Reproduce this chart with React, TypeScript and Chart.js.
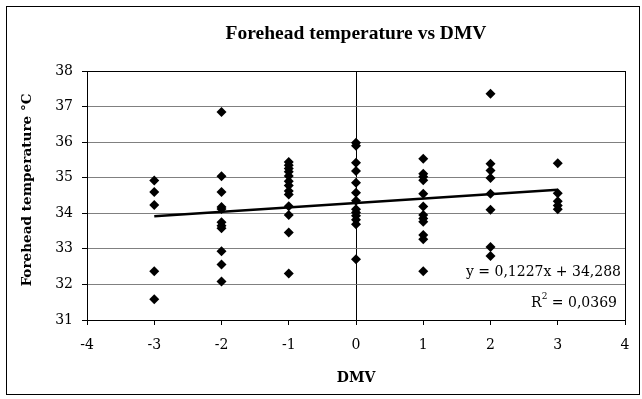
import React, { useEffect, useRef } from "react";
import { Chart, registerables } from "chart.js";

Chart.register(...registerables);

const titleText = "Forehead temperature vs DMV";
const xTitle = "DMV";
const yTitle = "Forehead temperature °C";
const equationText = "y = 0,1227x + 34,288";
const r2Base = "R";
const r2Rest = " = 0,0369";

const xMin = -4;
const xMax = 4;
const yMin = 31;
const yMax = 38;

const dmvM3 = [34.92, 34.6, 34.23, 32.37, 31.58];
const dmvM2 = [36.85, 35.04, 34.6, 34.18, 34.12, 33.75, 33.65, 33.58, 32.93, 32.56, 32.08];
const dmvM1 = [35.44, 35.35, 35.26, 35.17, 35.05, 34.9, 34.78, 34.63, 34.53, 34.2, 33.95, 33.46, 32.31];
const dmv0 = [35.98, 35.9, 35.42, 35.19, 34.86, 34.58, 34.35, 34.11, 34.02, 33.93, 33.82, 33.69, 32.71];
const dmv1 = [35.53, 35.11, 35.03, 34.93, 34.55, 34.19, 33.95, 33.85, 33.76, 33.39, 33.27, 32.37];
const dmv2 = [37.36, 35.39, 35.2, 34.99, 34.55, 34.1, 33.05, 32.8];
const dmv3 = [35.41, 34.56, 34.34, 34.22, 34.11];

const dmvColumns: [number, number[]][] = [
  [-3, dmvM3],
  [-2, dmvM2],
  [-1, dmvM1],
  [0, dmv0],
  [1, dmv1],
  [2, dmv2],
  [3, dmv3],
];

const trendX = [-3, 3];
const trendY = [33.92, 34.66];

const FONT = "'DejaVu Serif', 'Liberation Serif', serif";
const TITLE_FONT = "'Liberation Serif', 'DejaVu Serif', serif";

export default function App() {
  const ref = useRef<HTMLCanvasElement | null>(null);

  useEffect(() => {
    if (!ref.current) return;
    const points: { x: number; y: number }[] = [];
    dmvColumns.forEach(([x, ys]) => ys.forEach((y) => points.push({ x, y })));
    const trend = trendX.map((x, i) => ({ x, y: trendY[i] }));

    const overlay = {
      id: "overlay",
      afterDraw(chart: any) {
        const ctx = chart.ctx as CanvasRenderingContext2D;
        const a = chart.chartArea;
        ctx.save();
        // outer border
        ctx.strokeStyle = "#000";
        ctx.lineWidth = 1;
        ctx.strokeRect(6.5, 6.5, 633, 388);
        // title
        ctx.fillStyle = "#000";
        ctx.font = `bold 19.5px ${TITLE_FONT}`;
        ctx.textAlign = "center";
        ctx.textBaseline = "middle";
        ctx.fillText(titleText, (a.left + a.right) / 2, 34);
        // x title
        ctx.font = `bold 14px ${FONT}`;
        ctx.fillText(xTitle, (a.left + a.right) / 2, 378);
        // y title
        ctx.save();
        ctx.translate(27, 190);
        ctx.rotate(-Math.PI / 2);
        ctx.font = `bold 13.6px ${FONT}`;
        ctx.fillText(yTitle, 0, 0);
        ctx.restore();
        // equation
        ctx.font = `14px ${FONT}`;
        ctx.textAlign = "right";
        ctx.fillText(equationText, 621, 272);
        // R^2
        const restW = ctx.measureText(r2Rest).width;
        ctx.fillText(r2Rest, 617, 303);
        ctx.font = `9px ${FONT}`;
        const supW = ctx.measureText("2").width;
        ctx.fillText("2", 617 - restW, 297);
        ctx.font = `14px ${FONT}`;
        ctx.fillText(r2Base, 617 - restW - supW, 303);
        ctx.restore();
      },
    };

    const chart = new Chart(ref.current, {
      type: "scatter",
      data: {
        datasets: [
          {
            type: "line",
            data: trend,
            borderColor: "#000",
            borderWidth: 2.5,
            pointRadius: 0,
            fill: false,
          } as any,
          {
            data: points,
            pointStyle: "rectRot",
            pointRadius: 5,
            backgroundColor: "#000",
            borderColor: "#000",
            borderWidth: 0,
          },
        ],
      },
      options: {
        responsive: false,
        animation: false,
        devicePixelRatio: 1,
        layout: { padding: { left: 0, top: 71, right: 17, bottom: 0 } },
        plugins: {
          legend: { display: false },
          tooltip: { enabled: false },
          title: { display: false },
        },
        scales: {
          x: {
            type: "linear",
            min: xMin,
            max: xMax,
            afterFit: (s: any) => {
              s.height = 79;
            },
            ticks: {
              stepSize: 1,
              color: "#000",
              font: { family: FONT, size: 14 },
              padding: 12,
            },
            grid: {
              color: (c: any) =>
                c.tick && (c.tick.value === 0 || c.tick.value === xMin || c.tick.value === xMax)
                  ? "#000"
                  : "rgba(0,0,0,0)",
              tickColor: "#000",
              tickLength: 5,
              lineWidth: 1,
            },
            border: { display: true, color: "#000", width: 1 },
          },
          y: {
            min: yMin,
            max: yMax,
            afterFit: (s: any) => {
              s.width = 87;
            },
            ticks: {
              stepSize: 1,
              color: "#000",
              font: { family: FONT, size: 14 },
              padding: 9,
            },
            grid: {
              color: (c: any) =>
                c.tick && (c.tick.value === yMin || c.tick.value === yMax) ? "#000" : "#808080",
              tickColor: "#000",
              tickLength: 5,
              lineWidth: 1,
            },
            border: { display: true, color: "#000", width: 1 },
          },
        },
      },
      plugins: [overlay],
    });
    return () => chart.destroy();
  }, []);

  return (
    <div style={{ position: "fixed", left: 0, top: 0, width: 642, height: 399, background: "#fff" }}>
      <canvas ref={ref} width={642} height={399} style={{ width: 642, height: 399 }} />
    </div>
  );
}
